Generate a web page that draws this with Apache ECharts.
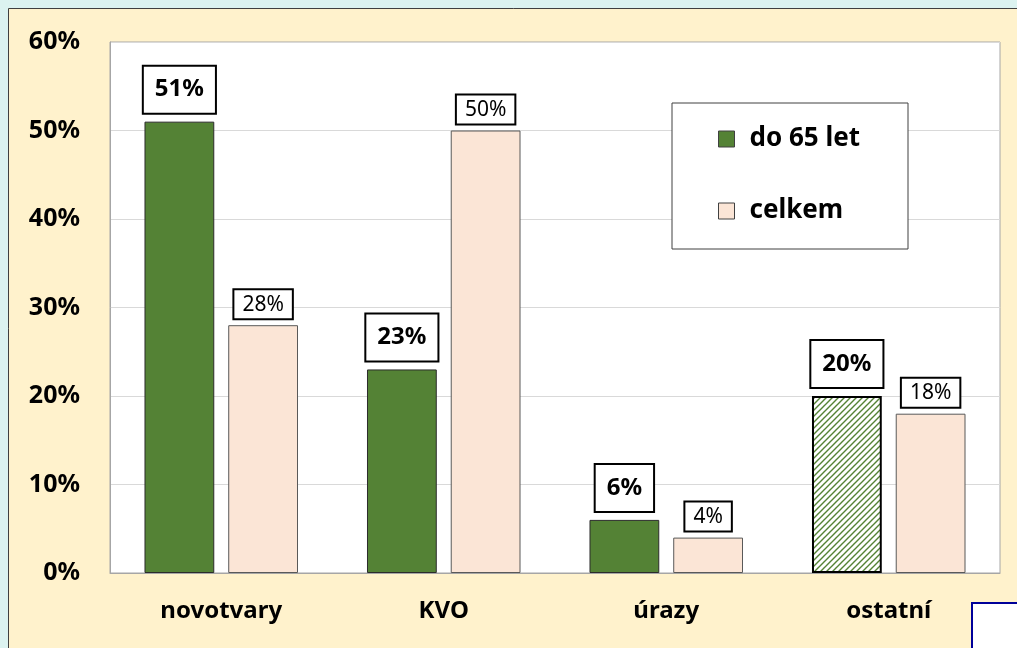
<!DOCTYPE html>
<html>
<head>
<meta charset="utf-8">
<script src="https://cdn.jsdelivr.net/npm/echarts@6/dist/echarts.min.js"></script>
<style>
  html, body { margin: 0; padding: 0; background: #dcf3f0; }
  #chart { width: 1017px; height: 648px; }
</style>
</head>
<body>
<div id="chart"></div>
<script>
// data
const categories = ['novotvary', 'KVO', 'úrazy', 'ostatní']
const do65 = [51, 23, 6, 20]
const celkem = [28, 50, 4, 18]
const hatchedIndex = 3 // ostatní is drawn hatched in the original
const yMin = 0
const yMax = 60
const yStep = 10

const FONT = 'Noto Sans'
const GREEN = '#548235'
const PINK = '#fbe5d6'

// diagonal hatch for the "ostatní" bar
function makeHatch () {
  const c = document.createElement('canvas')
  c.width = 6
  c.height = 6
  const ctx = c.getContext('2d')
  ctx.fillStyle = '#ffffff'
  ctx.fillRect(0, 0, 6, 6)
  ctx.strokeStyle = GREEN
  ctx.lineWidth = 1.4
  ctx.beginPath()
  ctx.moveTo(0, 6); ctx.lineTo(6, 0)
  ctx.moveTo(-3, 3); ctx.lineTo(3, -3)
  ctx.moveTo(3, 9); ctx.lineTo(9, 3)
  ctx.stroke()
  return c
}

const chart = echarts.init(document.getElementById('chart'))

const greenData = do65.map((v, i) => {
  if (i === hatchedIndex) {
    return {
      value: v,
      itemStyle: {
        color: { image: makeHatch(), repeat: 'repeat' },
        borderColor: '#000',
        borderWidth: 2
      }
    }
  }
  return v
})

const option = {
  backgroundColor: 'transparent',
  animation: false,
  graphic: [
    {
      type: 'rect',
      z: -10,
      shape: { x: 8.5, y: 8.5, width: 1100, height: 700 },
      style: { fill: '#fff2cc', stroke: '#404040', lineWidth: 1 }
    },
    {
      type: 'rect',
      z: 10,
      shape: { x: 972, y: 603, width: 100, height: 100 },
      style: { fill: '#ffffff', stroke: '#000099', lineWidth: 2 }
    }
  ],
  grid: {
    left: 110,
    right: 17,
    top: 42,
    bottom: 75,
    show: true,
    backgroundColor: '#ffffff',
    borderColor: '#a6a6a6',
    borderWidth: 1
  },
  legend: {
    orient: 'vertical',
    left: 672,
    top: 103,
    padding: [23, 48, 25, 46],
    itemGap: 46,
    itemWidth: 16,
    itemHeight: 16,
    icon: 'rect',
    itemStyle: { borderColor: '#404040', borderWidth: 1 },
    backgroundColor: '#ffffff',
    borderColor: '#404040',
    borderWidth: 1,
    textStyle: {
      fontFamily: FONT,
      fontSize: 26,
      fontWeight: 'bold',
      color: '#000',
      width: 128,
      padding: [0, 0, 0, 10]
    },
    data: ['do 65 let', 'celkem']
  },
  xAxis: {
    type: 'category',
    data: categories,
    axisTick: { show: false },
    axisLine: { lineStyle: { color: '#a6a6a6' } },
    axisLabel: {
      margin: 26,
      fontFamily: FONT,
      fontSize: 24,
      fontWeight: 'bold',
      color: '#000'
    }
  },
  yAxis: {
    type: 'value',
    min: yMin,
    max: yMax,
    interval: yStep,
    axisLine: { show: true, lineStyle: { color: '#a6a6a6' } },
    axisTick: { show: false },
    splitLine: { lineStyle: { color: '#d9d9d9' } },
    axisLabel: {
      margin: 30,
      fontFamily: FONT,
      fontSize: 25,
      fontWeight: 'bold',
      color: '#000',
      formatter: '{value}%'
    }
  },
  series: [
    {
      name: 'do 65 let',
      type: 'bar',
      data: greenData,
      barGap: '20%',
      barCategoryGap: '31%',
      itemStyle: { color: GREEN, borderColor: '#2b2b2b', borderWidth: 1 },
      label: {
        show: true,
        position: 'top',
        distance: 9,
        formatter: '{c}%',
        fontFamily: FONT,
        fontSize: 24,
        fontWeight: 'bold',
        color: '#000',
        backgroundColor: '#fff',
        borderColor: '#000',
        borderWidth: 2,
        padding: [11, 11, 11, 11]
      }
    },
    {
      name: 'celkem',
      type: 'bar',
      data: celkem,
      itemStyle: { color: PINK, borderColor: '#595959', borderWidth: 1 },
      label: {
        show: true,
        position: 'top',
        distance: 7,
        formatter: '{c}%',
        fontFamily: FONT,
        fontSize: 21,
        color: '#000',
        backgroundColor: '#fff',
        borderColor: '#000',
        borderWidth: 2,
        padding: [4, 8, 3, 8]
      }
    }
  ]
}

chart.setOption(option)
</script>
</body>
</html>
